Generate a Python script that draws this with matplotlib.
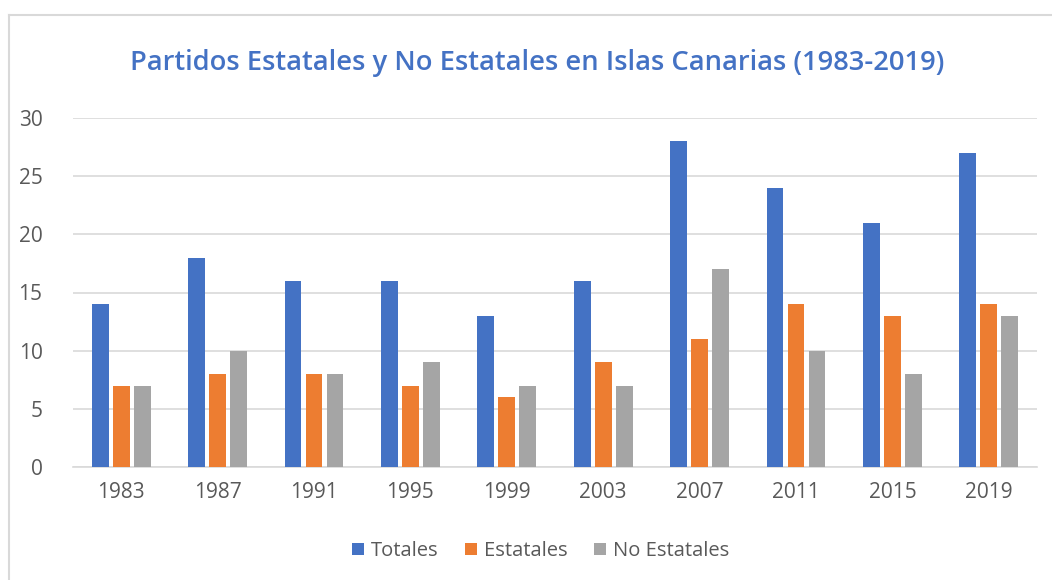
import matplotlib.pyplot as plt
import numpy as np

# datos
anios = ["1983", "1987", "1991", "1995", "1999", "2003", "2007", "2011", "2015", "2019"]
totales = [14, 18, 16, 16, 13, 16, 28, 24, 21, 27]
estatales = [7, 8, 8, 7, 6, 9, 11, 14, 13, 14]
no_estatales = [7, 10, 8, 9, 7, 7, 17, 10, 8, 13]

plt.rcParams['font.family'] = ['Open Sans', 'DejaVu Sans']

fig = plt.figure(figsize=(10.52, 5.8), dpi=100)
ax = fig.add_axes([73/1052, 1-467/580, 964/1052, 349/580])

x = np.arange(len(anios))
w = 0.175
paso = 0.218
ax.bar(x - paso, totales, w, color="#4472C4", label="Totales", zorder=3)
ax.bar(x, estatales, w, color="#ED7D31", label="Estatales", zorder=3)
ax.bar(x + paso, no_estatales, w, color="#A5A5A5", label="No Estatales", zorder=3)

ax.set_xlim(-0.5, len(anios) - 0.5)
ax.set_ylim(0, 30)
ax.set_yticks(range(0, 31, 5))
ax.set_xticks(x)
ax.set_xticklabels(anios)
ax.grid(axis="y", color="#D9D9D9", linewidth=1.2, zorder=0)
for s in ["top", "right", "left"]:
    ax.spines[s].set_visible(False)
ax.spines["bottom"].set_color("#D9D9D9")
ax.spines["bottom"].set_linewidth(1.2)
ax.tick_params(length=0, labelsize=15, labelcolor="#595959")
ax.tick_params(axis="x", pad=11)
ax.tick_params(axis="y", pad=22)

fig.text(0.511, 1-63/580, "Partidos Estatales y No Estatales en Islas Canarias (1983-2019)",
         ha="center", va="center", fontsize=19.7, fontweight="semibold", color="#4472C4")

fig.legend(loc="center", bbox_to_anchor=(0.514, 1-551/580), ncol=3, frameon=False,
           fontsize=14.5, labelcolor="#595959", handlelength=0.6, handleheight=0.6,
           columnspacing=1.3, handletextpad=0.35)

# borde del grafico
fig.add_artist(plt.Line2D([9/1052, 9/1052], [0, 1-15/580], color="#D9D9D9", linewidth=1.5))
fig.add_artist(plt.Line2D([9/1052, 1], [1-15/580, 1-15/580], color="#D9D9D9", linewidth=1.5))

fig.savefig("out.png", dpi=100)
